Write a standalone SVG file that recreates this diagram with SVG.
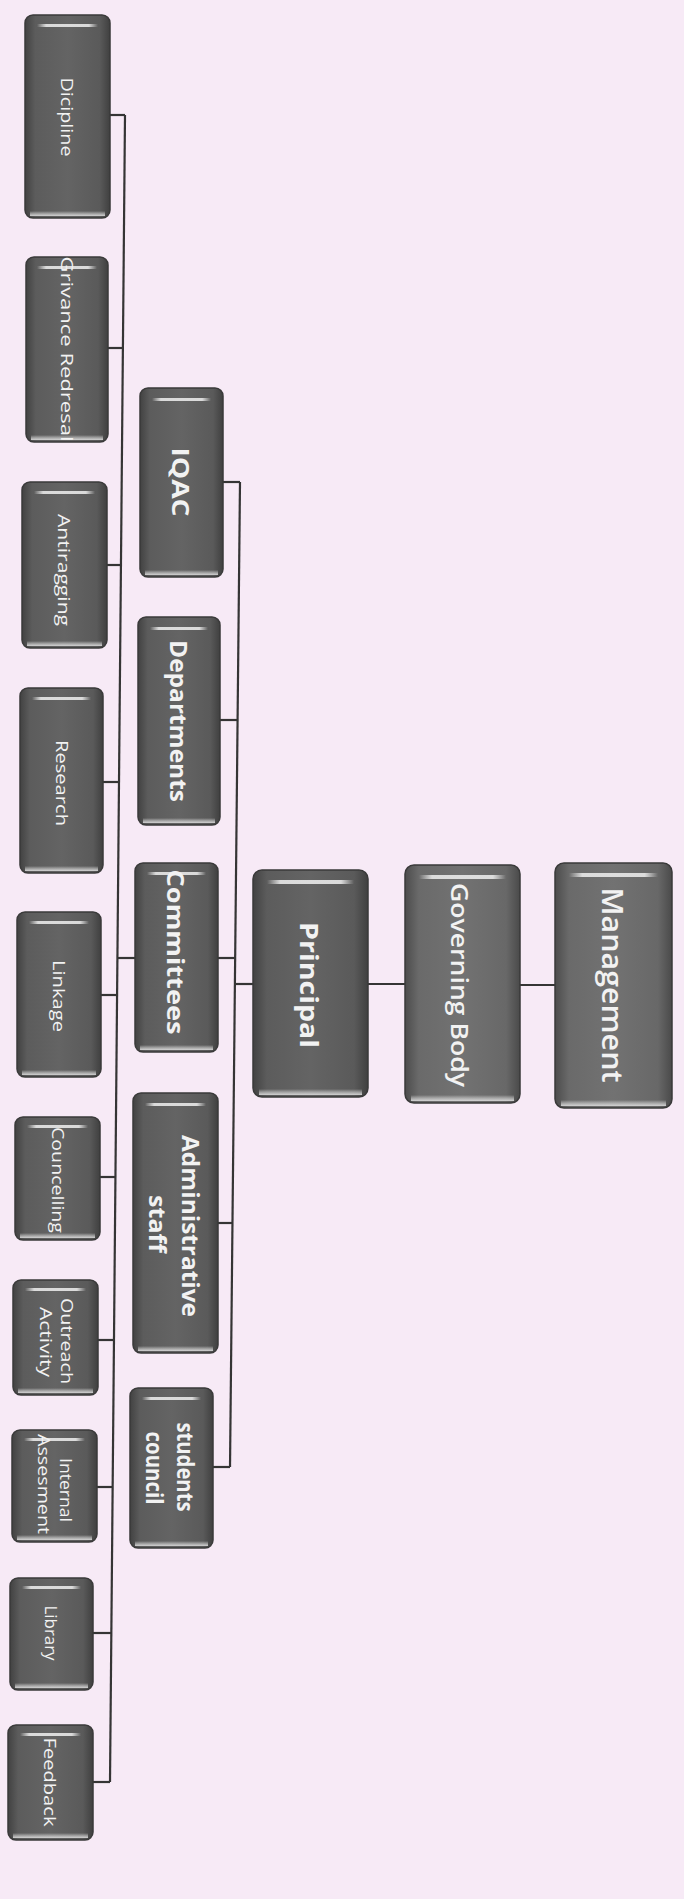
<svg xmlns="http://www.w3.org/2000/svg" width="684" height="1899" viewBox="0 0 684 1899">
<defs>
<linearGradient id="boxg" x1="0" y1="0" x2="1" y2="0">
<stop offset="0" stop-color="#424242"/>
<stop offset="0.12" stop-color="#5c5c5c"/>
<stop offset="0.5" stop-color="#646464"/>
<stop offset="0.88" stop-color="#5a5a5a"/>
<stop offset="1" stop-color="#404040"/>
</linearGradient>
<linearGradient id="boxl" x1="0" y1="0" x2="1" y2="0">
<stop offset="0" stop-color="#4c4c4c"/>
<stop offset="0.12" stop-color="#6a6a6a"/>
<stop offset="0.5" stop-color="#727272"/>
<stop offset="0.88" stop-color="#686868"/>
<stop offset="1" stop-color="#4a4a4a"/>
</linearGradient>
<linearGradient id="hl" x1="0" y1="0" x2="1" y2="0">
<stop offset="0" stop-color="#ffffff" stop-opacity="0"/>
<stop offset="0.15" stop-color="#f0f0f0" stop-opacity="0.85"/>
<stop offset="0.85" stop-color="#f0f0f0" stop-opacity="0.85"/>
<stop offset="1" stop-color="#ffffff" stop-opacity="0"/>
</linearGradient>
<linearGradient id="bl" x1="0" y1="0" x2="0" y2="1">
<stop offset="0" stop-color="#ffffff" stop-opacity="0"/>
<stop offset="1" stop-color="#dcdcdc" stop-opacity="0.9"/>
</linearGradient>
</defs>
<style>
.box{fill:url(#boxg);stroke:#3a3a3a;stroke-width:1.5}
.lt{fill:url(#boxl)}
.hl{fill:url(#hl)}
.bl{fill:url(#bl)}
.t{fill:#f2f2f2;font-family:"Open Sans","Liberation Sans",sans-serif;text-anchor:middle;dominant-baseline:central}
.s{font-size:16px}
.m{font-size:23px;font-weight:700}
.c line{stroke:#353535;stroke-width:2.2;fill:none}
</style>
<rect width="684" height="1899" fill="#f7eaf6"/>

<g class="c" id="connectors">
<line x1="125" y1="115" x2="110" y2="1782"/>
<line x1="110" y1="115" x2="125" y2="115"/>
<line x1="108" y1="348" x2="123" y2="348"/>
<line x1="107" y1="565" x2="121" y2="565"/>
<line x1="103" y1="782" x2="119" y2="782"/>
<line x1="117" y1="958" x2="135" y2="958"/>
<line x1="101" y1="995" x2="117" y2="995"/>
<line x1="100" y1="1177" x2="115.4" y2="1177"/>
<line x1="98" y1="1340" x2="114" y2="1340"/>
<line x1="97" y1="1487" x2="112.7" y2="1487"/>
<line x1="93" y1="1633" x2="111.3" y2="1633"/>
<line x1="93" y1="1782" x2="110" y2="1782"/>
<line x1="240" y1="482" x2="230" y2="1467"/>
<line x1="223" y1="482" x2="240" y2="482"/>
<line x1="220" y1="720" x2="237.6" y2="720"/>
<line x1="218" y1="958" x2="235.2" y2="958"/>
<line x1="218" y1="1223" x2="232.5" y2="1223"/>
<line x1="213" y1="1467" x2="230" y2="1467"/>
<line x1="234.9" y1="984" x2="253" y2="984"/>
<line x1="368" y1="984" x2="405" y2="984"/>
<line x1="520" y1="985" x2="555" y2="985"/>
</g>

<g id="discipline">
<rect class="box" x="25" y="15" width="85" height="203" rx="8"/>
<rect class="hl" x="37" y="24" width="61" height="3"/>
<rect class="bl" x="30" y="211" width="75" height="5"/>
<text class="t s" transform="translate(67,117) rotate(90)" textLength="79" lengthAdjust="spacingAndGlyphs">Dicipline</text>
</g>
<g id="grivance">
<rect class="box" x="26" y="257" width="82" height="185" rx="8"/>
<rect class="hl" x="37" y="266" width="60" height="3"/>
<rect class="bl" x="31" y="435" width="72" height="5"/>
<text class="t s" transform="translate(67,349) rotate(90)" textLength="185" lengthAdjust="spacingAndGlyphs">Grivance Redresal</text>
</g>
<g id="antiragging">
<rect class="box" x="22" y="482" width="85" height="166" rx="8"/>
<rect class="hl" x="34" y="491" width="61" height="3"/>
<rect class="bl" x="27" y="641" width="75" height="5"/>
<text class="t s" transform="translate(64,570) rotate(90)" textLength="112" lengthAdjust="spacingAndGlyphs">Antiragging</text>
</g>
<g id="research">
<rect class="box" x="20" y="688" width="83" height="185" rx="8"/>
<rect class="hl" x="32" y="697" width="59" height="3"/>
<rect class="bl" x="25" y="866" width="73" height="5"/>
<text class="t s" transform="translate(62,783) rotate(90)" textLength="86" lengthAdjust="spacingAndGlyphs">Research</text>
</g>
<g id="linkage">
<rect class="box" x="17" y="912" width="84" height="165" rx="8"/>
<rect class="hl" x="29" y="921" width="60" height="3"/>
<rect class="bl" x="22" y="1070" width="74" height="5"/>
<text class="t s" transform="translate(59,996) rotate(90)" textLength="72" lengthAdjust="spacingAndGlyphs">Linkage</text>
</g>
<g id="councelling">
<rect class="box" x="15" y="1117" width="85" height="123" rx="8"/>
<rect class="hl" x="27" y="1125" width="61" height="3"/>
<rect class="bl" x="20" y="1233" width="75" height="5"/>
<text class="t s" transform="translate(58,1180) rotate(90)" textLength="106" lengthAdjust="spacingAndGlyphs">Councelling</text>
</g>
<g id="outreach">
<rect class="box" x="13" y="1280" width="85" height="115" rx="8"/>
<rect class="hl" x="25" y="1288" width="61" height="3"/>
<rect class="bl" x="18" y="1388" width="75" height="5"/>
<text class="t s" transform="translate(67,1341) rotate(90)" textLength="86" lengthAdjust="spacingAndGlyphs">Outreach</text>
<text class="t s" transform="translate(46,1342) rotate(90)" textLength="70" lengthAdjust="spacingAndGlyphs">Activity</text>
</g>
<g id="internal">
<rect class="box" x="12" y="1430" width="85" height="112" rx="8"/>
<rect class="hl" x="24" y="1438" width="61" height="3"/>
<rect class="bl" x="17" y="1535" width="75" height="5"/>
<text class="t s" transform="translate(66,1490) rotate(90)" textLength="64" lengthAdjust="spacingAndGlyphs">Internal</text>
<text class="t s" transform="translate(44,1484) rotate(90)" textLength="100" lengthAdjust="spacingAndGlyphs">Assesment</text>
</g>
<g id="library">
<rect class="box" x="10" y="1578" width="83" height="112" rx="8"/>
<rect class="hl" x="22" y="1586" width="59" height="3"/>
<rect class="bl" x="15" y="1683" width="73" height="5"/>
<text class="t s" transform="translate(51,1633) rotate(90)" textLength="55" lengthAdjust="spacingAndGlyphs">Library</text>
</g>
<g id="feedback">
<rect class="box" x="8" y="1725" width="85" height="115" rx="8"/>
<rect class="hl" x="20" y="1733" width="61" height="3"/>
<rect class="bl" x="13" y="1833" width="75" height="5"/>
<text class="t s" transform="translate(50,1782) rotate(90)" textLength="89" lengthAdjust="spacingAndGlyphs">Feedback</text>
</g>

<g id="iqac">
<rect class="box" x="140" y="388" width="83" height="189" rx="8"/>
<rect class="hl" x="152" y="398" width="59" height="3"/>
<rect class="bl" x="145" y="570" width="73" height="5"/>
<text class="t m" transform="translate(181,482) rotate(90)" textLength="69" lengthAdjust="spacingAndGlyphs">IQAC</text>
</g>
<g id="departments">
<rect class="box" x="138" y="617" width="82" height="208" rx="8"/>
<rect class="hl" x="150" y="627" width="58" height="3"/>
<rect class="bl" x="143" y="818" width="72" height="5"/>
<text class="t m" transform="translate(179,721) rotate(90)" textLength="162" lengthAdjust="spacingAndGlyphs">Departments</text>
</g>
<g id="committees">
<rect class="box" x="135" y="863" width="83" height="189" rx="8"/>
<rect class="hl" x="147" y="872" width="59" height="3"/>
<rect class="bl" x="140" y="1045" width="73" height="5"/>
<text class="t m" transform="translate(176,952) rotate(90)" textLength="165" lengthAdjust="spacingAndGlyphs">Committees</text>
</g>
<g id="admin">
<rect class="box" x="133" y="1093" width="85" height="260" rx="8"/>
<rect class="hl" x="145" y="1103" width="61" height="3"/>
<rect class="bl" x="138" y="1346" width="75" height="5"/>
<text class="t m" transform="translate(191,1226) rotate(90)" textLength="182" lengthAdjust="spacingAndGlyphs">Administrative</text>
<text class="t m" transform="translate(158,1224) rotate(90)" textLength="58" lengthAdjust="spacingAndGlyphs">staff</text>
</g>
<g id="students">
<rect class="box" x="130" y="1388" width="83" height="160" rx="8"/>
<rect class="hl" x="142" y="1397" width="59" height="3"/>
<rect class="bl" x="135" y="1541" width="73" height="5"/>
<text class="t m" transform="translate(186,1467) rotate(90)" textLength="89" lengthAdjust="spacingAndGlyphs">students</text>
<text class="t m" transform="translate(155,1468) rotate(90)" textLength="73" lengthAdjust="spacingAndGlyphs">council</text>
</g>

<g id="principal">
<rect class="box" x="253" y="870" width="115" height="227" rx="9"/>
<rect class="hl" x="267" y="880" width="87" height="4"/>
<rect class="bl" x="259" y="1089" width="103" height="6"/>
<text class="t" style="font-size:25px;font-weight:700" transform="translate(310,985) rotate(90)" textLength="126" lengthAdjust="spacingAndGlyphs">Principal</text>
</g>
<g id="governing">
<rect class="box lt" x="405" y="865" width="115" height="238" rx="9"/>
<rect class="hl" x="419" y="875" width="87" height="4"/>
<rect class="bl" x="411" y="1095" width="103" height="6"/>
<text class="t" style="font-size:23px;font-weight:600" transform="translate(460,985) rotate(90)" textLength="204" lengthAdjust="spacingAndGlyphs">Governing Body</text>
</g>
<g id="management">
<rect class="box lt" x="555" y="863" width="117" height="245" rx="9"/>
<rect class="hl" x="569" y="873" width="89" height="4"/>
<rect class="bl" x="561" y="1100" width="105" height="6"/>
<text class="t" style="font-size:28px;font-weight:600" transform="translate(613,985) rotate(90)" textLength="195" lengthAdjust="spacingAndGlyphs">Management</text>
</g>
</svg>
